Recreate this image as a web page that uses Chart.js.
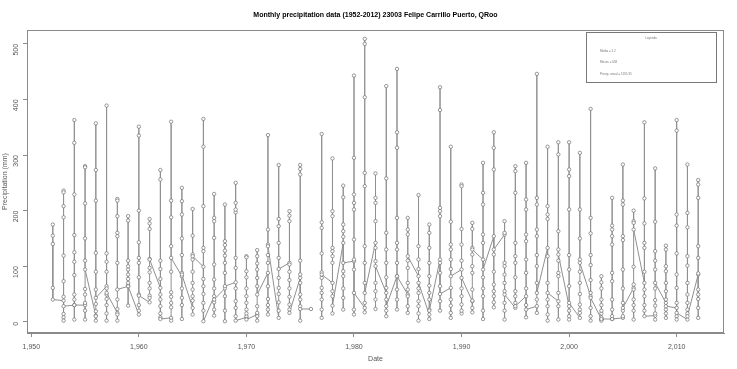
<!DOCTYPE html>
<html>
<head>
<meta charset="utf-8">
<script src="https://cdn.jsdelivr.net/npm/chart.js@4.4.0/dist/chart.umd.min.js"></script>
<style>
  html, body { margin: 0; padding: 0; background: #fff; }
  #wrap { width: 737px; height: 369px; }
</style>
</head>
<body>
<div id="wrap"><canvas id="rainChart" width="737" height="369"></canvas></div>
<script>
// one value per year, 1952 .. 2012 (mm)
const years = [1952, 1953, 1954, 1955, 1956, 1957, 1958, 1959,
  1960, 1961, 1962, 1963, 1964, 1965, 1966, 1967, 1968, 1969,
  1970, 1971, 1972, 1973, 1974, 1975, 1976, 1977, 1978, 1979,
  1980, 1981, 1982, 1983, 1984, 1985, 1986, 1987, 1988, 1989,
  1990, 1991, 1992, 1993, 1994, 1995, 1996, 1997, 1998, 1999,
  2000, 2001, 2002, 2003, 2004, 2005, 2006, 2007, 2008, 2009,
  2010, 2011, 2012];

const jan = [null, 38, 30, 30, 11, 64, 16, 64,
  13, 35, 61, 7, 82, 25, 99, 46, 60, 71,
  8, 13, 88, 7, 106, 79, 23, 52, 70, 142,
  109, 25, 142, 52, 82, 49, 82, 13, 112, 61,
  94, 37, 112, 154, 157, 25, 46, 28, 133, 37,
  28, 7, 46, 5, 5, 7, 61, 70, 11, 34,
  25, 4, 85];
const feb = [null, 14, 40, 34, 19, 30, 23, 29,
  30, 47, 28, 26, 43, 38, 34, 22, 46, 37,
  22, 16, 41, 35, 31, 28, null, 22, 46, 43,
  22, 34, 40, 20, 40, 28, 37, 22, 37, 29,
  31, 38, 46, 46, 34, 34, 30, 16, 28, 28,
  10, 22, 25, 4, 22, 10, 40, 46, 29, 22,
  10, 22, 41];
const mar = [null, 8, 4, 4, 2, 15, 13, 65,
  20, 43, 15, 2, 30, 13, 20, 11, 20, 25,
  10, 10, 22, 20, 22, 2, null, 7, 15, 22,
  13, 17, 23, 10, 22, 16, 15, 5, 20, 16,
  15, 17, 20, 26, 20, 46, 8, 40, 13, 4,
  4, 16, 10, 2, 10, 20, 20, 20, 15, 7,
  4, 15, 25];
const apr = [null, 2, 49, 20, 10, 2, 2, 70,
  49, 60, 8, 34, 5, 46, 50, 35, 1, 10,
  15, 2, 13, 50, 45, 40, null, 40, 55, 60,
  94, 70, 55, 40, 58, 46, 2, 40, 64, 7,
  20, 25, 5, 35, 4, 55, 60, 70, 2, 52,
  20, 31, 2, 8, 40, 34, 4, 30, 4, 15,
  34, 34, 7];
const may = [null, 45, 84, 59, 58, 41, 40, 77,
  80, 70, 49, 53, 60, 58, 64, 60, 88, 60,
  34, 28, 30, 61, 60, 49, null, 61, 106, 82,
  112, 106, 109, 61, 106, 58, 52, 52, 88, 40,
  46, 58, 60, 55, 55, 80, 88, 100, 40, 82,
  64, 50, 52, 15, 73, 60, 30, 58, 39, 40,
  61, 49, 58];
const jun = [null, 236, 363, 280, 357, 123, 221, 190,
  351, 185, 273, 360, 241, 203, 365, 230, 145, 250,
  118, 129, 336, 282, 199, 282, null, 338, 294, 245,
  443, 500, 267, 424, 455, 187, 228, 175, 205, 139,
  247, 178, 286, 341, 181, 280, 286, 446, 315, 323,
  323, 304, 383, 82, 223, 283, 200, 90, 276, 137,
  193, 283, 136];
const jul = [null, 119, 125, 110, 124, 90, 106, 85,
  115, 97, 95, 136, 88, 90, 127, 103, 119, 115,
  60, 64, 120, 115, 75, 70, null, 123, 118, 91,
  148, 136, 133, 80, 130, 70, 60, 65, 106, 95,
  60, 88, 80, 67, 70, 106, 112, 120, 70, 88,
  94, 70, 75, 40, 88, 94, 67, 133, 60, 55,
  123, 101, 115];
const aug = [140, 188, 156, 150, 90, 108, 154, 94,
  143, 89, 110, 90, 150, 112, 133, 151, 106, 197,
  80, 79, 106, 142, 90, 110, null, 89, 127, 153,
  202, 244, 70, 106, 142, 97, 95, 82, 199, 112,
  110, 100, 142, 121, 85, 118, 145, 154, 118, 110,
  120, 90, 102, 30, 139, 147, 99, 359, 94, 70,
  173, 118, 223];
const sep = [175, 233, 322, 278, 273, 389, 218, 182,
  335, 177, 256, 218, 217, 155, 315, 187, 211, 214,
  116, 118, 166, 185, 191, 275, null, 179, 199, 224,
  295, 509, 223, 258, 341, 166, 136, 160, 422, 315,
  244, 167, 232, 313, 160, 271, 220, 223, 193, 301,
  274, 202, 187, 71, 173, 218, 181, 222, 180, 130,
  363, 196, 255];
const oct = [155, 208, 229, 213, 218, 60, 190, 110,
  200, 167, 77, 188, 193, 121, 208, 181, 138, 202,
  91, 105, 139, 172, 181, 265, null, 169, 190, 175,
  229, 404, 214, 160, 313, 157, 112, 133, 381, 180,
  167, 121, 211, 274, 106, 232, 202, 211, 208, 163,
  262, 150, 159, 60, 166, 211, 178, 177, 127, 100,
  344, 170, 247];
const nov = [61, 73, 108, 49, 32, 49, 160, 100,
  106, 113, 40, 45, 120, 70, 77, 76, 128, 97,
  46, 94, 64, 79, 103, 85, null, 79, 133, 163,
  214, 268, 181, 130, 187, 110, 28, 106, 190, 130,
  139, 133, 157, 90, 100, 142, 157, 166, 185, 130,
  202, 112, 120, 20, 154, 154, 58, 142, 110, 91,
  85, 70, 87];
const dec = [40, 28, 30, 94, 43, 52, 58, 64,
  47, 112, 5, 115, 85, 118, 1, 40, 64, 2,
  4, 49, 136, 95, 16, 23, null, 85, 29, 106,
  52, 52, 100, 28, 82, 118, 70, 20, 50, 82,
  79, 130, 94, 130, 49, 28, 22, 52, 52, 121,
  34, 106, 43, 5, 5, 25, 166, 10, 70, 28,
  16, 10, 49];

const xTicks = [1950, 1960, 1970, 1980, 1990, 2000, 2010];
const yTicks = [0, 100, 200, 300, 400, 500];
const chartTitle = 'Monthly precipitation data (1952-2012) 23003 Felipe Carrillo Puerto, QRoo';
const legendLines = ['Media = 1.2', 'Meses = 658', 'Precip. anual = 1195.35'];

// months in order, so the path runs Jan..Dec inside each year
const months = [jan, feb, mar, apr, may, jun, jul, aug, sep, oct, nov, dec];
const points = [];
years.forEach((yr, i) => {
  months.forEach(m => points.push({ x: yr, y: m[i] }));
});

const frameBox = {
  id: 'frameBox',
  afterDraw(chart) {
    const { ctx, chartArea: a } = chart;
    ctx.save();
    ctx.strokeStyle = '#8a8a8a';
    ctx.lineWidth = 1;
    ctx.strokeRect(Math.round(a.left) + 0.5, Math.round(a.top) + 0.5,
      Math.round(a.width) - 1, Math.round(a.height) - 1);

    // title centred over the plot region, like R does
    ctx.fillStyle = '#000';
    ctx.font = 'bold 7px "Liberation Sans"';
    ctx.textAlign = 'center';
    ctx.textBaseline = 'middle';
    ctx.fillText(chartTitle, (a.left + a.right) / 2, 15);

    // small legend box, top right
    const bx = a.right - 138, by = a.top + 2, bw = 130, bh = 50;
    ctx.fillStyle = '#fff';
    ctx.fillRect(bx, by, bw, bh);
    ctx.strokeStyle = '#777';
    ctx.strokeRect(bx + 0.5, by + 0.5, bw, bh);
    ctx.fillStyle = '#777';
    ctx.font = '3px "Liberation Sans"';
    ctx.fillText('Leyenda', bx + bw / 2, by + 6);
    ctx.textAlign = 'left';
    legendLines.forEach((t, k) => ctx.fillText(t, bx + 14, by + 19 + k * 11.5));
    ctx.restore();
  }
};

new Chart(document.getElementById('rainChart'), {
  type: 'scatter',
  data: {
    datasets: [{
      data: points,
      showLine: true,
      tension: 0,
      borderColor: '#909090',
      borderWidth: 1,
      pointRadius: 1.7,
      pointBorderWidth: 0.7,
      pointBorderColor: '#6e6e6e',
      pointBackgroundColor: '#fff'
    }]
  },
  options: {
    responsive: false,
    animation: false,
    layout: { padding: { top: 30, right: 13, left: 0, bottom: 0 } },
    plugins: {
      legend: { display: false },
      tooltip: { enabled: false },
      title: { display: false }
    },
    scales: {
      x: {
        type: 'linear',
        min: 1949.6,
        max: 2014.4,
        afterBuildTicks: s => { s.ticks = xTicks.map(v => ({ value: v })); },
        afterFit: s => { s.height = 36; },
        grid: { display: true, drawOnChartArea: false, drawTicks: true, tickLength: 4, color: '#8a8a8a' },
        border: { display: true, color: '#8a8a8a' },
        ticks: { color: '#555', font: { family: 'Liberation Sans', size: 7 }, padding: 6, maxRotation: 0 },
        title: { display: true, text: 'Date', color: '#555', font: { family: 'Liberation Sans', size: 7 }, padding: { top: 0, bottom: 6 } }
      },
      y: {
        min: -20.2,
        max: 525,
        afterBuildTicks: s => { s.ticks = yTicks.map(v => ({ value: v })); },
        afterFit: s => { s.width = 27; },
        grid: { display: true, drawOnChartArea: false, drawTicks: true, tickLength: 4, color: '#8a8a8a' },
        border: { display: true, color: '#8a8a8a' },
        ticks: { color: '#555', font: { family: 'Liberation Sans', size: 7 }, padding: 7, minRotation: 90, maxRotation: 90 },
        title: { display: true, text: 'Precipitation (mm)', color: '#555', font: { family: 'Liberation Sans', size: 7 }, padding: { top: 1, bottom: 0 } }
      }
    }
  },
  plugins: [frameBox]
});
</script>
</body>
</html>
